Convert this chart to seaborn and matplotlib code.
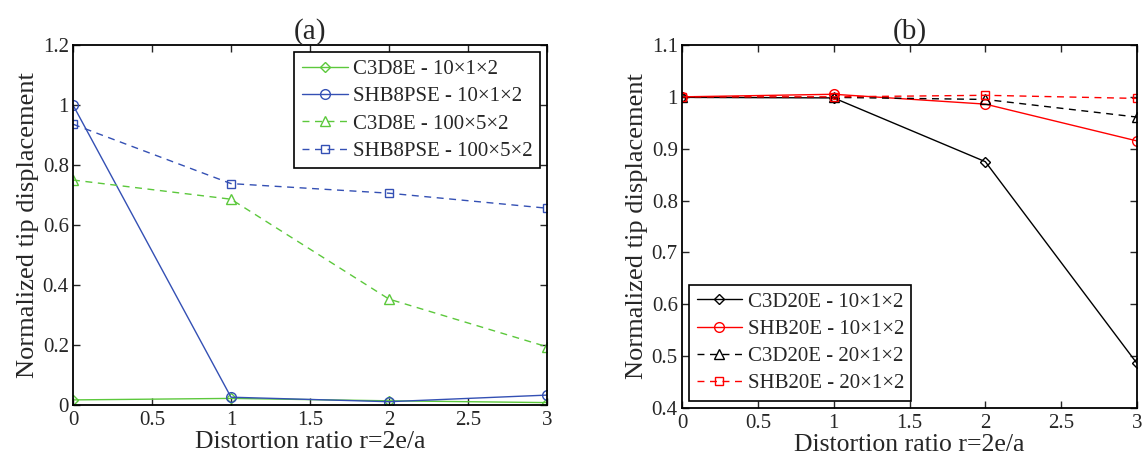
import numpy as np
import pandas as pd
import seaborn as sns
import matplotlib.pyplot as plt

# distortion ratios
ratio = [0, 1, 2, 3]

# panel (a)
c3d8e_10 = [0.017, 0.022, 0.014, 0.008]
shb8pse_10 = [1.0, 0.026, 0.011, 0.033]
c3d8e_100 = [0.75, 0.686, 0.353, 0.194]
shb8pse_100 = [0.936, 0.738, 0.706, 0.656]

# panel (b)
c3d20e_10 = [0.999, 0.998, 0.875, 0.486]
shb20e_10 = [1.0, 1.005, 0.986, 0.915]
c3d20e_20 = [0.999, 0.999, 0.995, 0.961]
shb20e_20 = [1.0, 1.0, 1.003, 0.997]

labels_a = ["C3D8E - 10\u00d71\u00d72", "SHB8PSE - 10\u00d71\u00d72",
            "C3D8E - 100\u00d75\u00d72", "SHB8PSE - 100\u00d75\u00d72"]
labels_b = ["C3D20E - 10\u00d71\u00d72", "SHB20E - 10\u00d71\u00d72",
            "C3D20E - 20\u00d71\u00d72", "SHB20E - 20\u00d71\u00d72"]

sns.set_style("ticks")
plt.rcParams['font.family'] = ['Liberation Serif', 'DejaVu Serif']
plt.rcParams['xtick.direction'] = 'in'
plt.rcParams['ytick.direction'] = 'in'
plt.rcParams['xtick.top'] = True
plt.rcParams['ytick.right'] = True

green = '#5cc83c'
blue = '#3450b4'
dashed = (0, (5, 4))

fig = plt.figure(figsize=(11.48, 4.66), dpi=100)
ax1 = fig.add_axes([73/1148, 1-405/466, 474/1148, 360/466])
ax2 = fig.add_axes([682/1148, 1-408/466, 455/1148, 363/466])

series_a = [(c3d8e_10, green, '-', 'D', 5), (shb8pse_10, blue, '-', 'o', 7),
            (c3d8e_100, green, dashed, '^', 7), (shb8pse_100, blue, dashed, 's', 6)]
for (vals, col, ls, mk, ms), lab in zip(series_a, labels_a):
    sns.lineplot(x=ratio, y=vals, ax=ax1, color=col, linestyle=ls, marker=mk,
                 markersize=ms, markerfacecolor='none', markeredgecolor=col,
                 markeredgewidth=1, linewidth=1, label=lab)

series_b = [(c3d20e_10, 'black', '-', 'D', 5), (shb20e_10, 'red', '-', 'o', 7),
            (c3d20e_20, 'black', dashed, '^', 7), (shb20e_20, 'red', dashed, 's', 6)]
for (vals, col, ls, mk, ms), lab in zip(series_b, labels_b):
    sns.lineplot(x=ratio, y=vals, ax=ax2, color=col, linestyle=ls, marker=mk,
                 markersize=ms, markerfacecolor='none', markeredgecolor=col,
                 markeredgewidth=1, linewidth=1, label=lab)

ax1.set_ylim(0, 1.2)
ax1.set_yticks([0, 0.2, 0.4, 0.6, 0.8, 1, 1.2])
ax1.set_yticklabels(['0', '0.2', '0.4', '0.6', '0.8', '1', '1.2'])
ax2.set_ylim(0.4, 1.1)
ax2.set_yticks([0.4, 0.5, 0.6, 0.7, 0.8, 0.9, 1, 1.1])
ax2.set_yticklabels(['0.4', '0.5', '0.6', '0.7', '0.8', '0.9', '1', '1.1'])

for ax, title, loc in [(ax1, '(a)', 'upper right'), (ax2, '(b)', 'lower left')]:
    ax.set_xlim(0, 3)
    ax.set_xticks([0, 0.5, 1, 1.5, 2, 2.5, 3])
    ax.set_xticklabels(['0', '0.5', '1', '1.5', '2', '2.5', '3'])
    ax.tick_params(labelsize=15, length=5, width=1)
    ax.tick_params(axis='x', pad=4)
    ax.tick_params(axis='y', pad=3)
    for sp in ax.spines.values():
        sp.set_linewidth(1.3)
        sp.set_color('black')
    ax.set_title(title, fontsize=21, pad=3)
    ax.set_xlabel('Distortion ratio r=2e/a', fontsize=18.5, labelpad=1)
    ax.set_ylabel('Normalized tip displacement', fontsize=19, labelpad=3)
    leg = ax.legend(loc=loc, fontsize=15, frameon=True, fancybox=False,
                    edgecolor='black', framealpha=1, handlelength=2.2,
                    borderpad=0.35, labelspacing=0.37, handletextpad=0.25,
                    borderaxespad=0.35)
    leg.get_frame().set_linewidth(1.2)

fig.savefig('out.png', dpi=100)
